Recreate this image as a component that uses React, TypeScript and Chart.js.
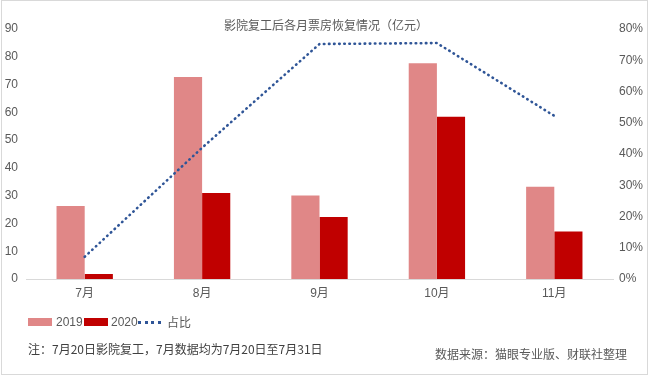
import React, { useEffect, useRef } from "react";
import { Chart, registerables } from "chart.js";

Chart.register(...registerables);

const categories = ["7月", "8月", "9月", "10月", "11月"];
const values2019 = [26.3, 72.7, 30.1, 77.7, 33.2];
const values2020 = [1.8, 31.0, 22.3, 58.4, 17.1];
const ratio = [0.071, 0.42, 0.752, 0.755, 0.522];

const titleText = "影院复工后各月票房恢复情况（亿元）";
const noteText = "注：7月20日影院复工，7月数据均为7月20日至7月31日";
const sourceText = "数据来源：猫眼专业版、财联社整理";

const LATIN = "'Liberation Sans', Arial, Helvetica, 'Noto Sans CJK SC', sans-serif";
const CJK = "'Noto Sans CJK SC', 'Liberation Sans', sans-serif";
const GREY = "#595959";
const C2019 = "#E08787";
const C2020 = "#C00000";
const CLINE = "#2F5597";

export default function App() {
  const ref = useRef<HTMLCanvasElement | null>(null);

  useEffect(() => {
    if (!ref.current) return;
    const chart = new Chart(ref.current, {
      type: "bar",
      data: {
        labels: categories,
        datasets: [
          {
            type: "line",
            label: "占比",
            data: ratio,
            yAxisID: "y1",
            borderColor: CLINE,
            backgroundColor: CLINE,
            borderWidth: 2.6,
            borderDash: [0.5, 4.6],
            borderCapStyle: "round",
            pointRadius: 0,
            tension: 0,
            order: 0,
          } as any,
          {
            label: "2019",
            data: values2019,
            backgroundColor: C2019,
            yAxisID: "y",
            order: 1,
            categoryPercentage: 0.48,
            barPercentage: 1,
          },
          {
            label: "2020",
            data: values2020,
            backgroundColor: C2020,
            yAxisID: "y",
            order: 2,
            categoryPercentage: 0.48,
            barPercentage: 1,
          },
        ],
      },
      options: {
        animation: false,
        responsive: false,
        maintainAspectRatio: false,
        layout: { padding: { top: 29, bottom: 67, left: 0, right: 0 } },
        plugins: { legend: { display: false }, title: { display: false }, tooltip: { enabled: false } },
        scales: {
          x: {
            grid: { display: false, drawTicks: false },
            border: { display: true, color: "#D9D9D9", width: 1 },
            ticks: { color: GREY, font: { family: LATIN, size: 12 }, padding: 7 },
            afterFit: (s: any) => { s.height = 30; },
          },
          y: {
            position: "left",
            min: 0,
            max: 90,
            grid: { display: false, drawTicks: false },
            border: { display: false },
            ticks: { stepSize: 10, color: GREY, font: { family: LATIN, size: 12 }, padding: 8 },
            afterFit: (s: any) => { s.width = 26; },
          },
          y1: {
            position: "right",
            min: 0,
            max: 0.8,
            grid: { display: false, drawTicks: false },
            border: { display: false },
            ticks: {
              stepSize: 0.1,
              color: GREY,
              font: { family: LATIN, size: 12 },
              padding: 6,
              callback: (v: any) => `${Math.round(Number(v) * 100)}%`,
            },
            afterFit: (s: any) => { s.width = 39; },
          },
        },
      },
    });
    return () => chart.destroy();
  }, []);

  const legendText: React.CSSProperties = {
    position: "absolute",
    top: 314,
    fontFamily: LATIN,
    fontSize: 12,
    color: GREY,
    lineHeight: "16px",
    whiteSpace: "nowrap",
  };
  const box: React.CSSProperties = { position: "absolute", top: 318, width: 24, height: 8 };

  return (
    <div style={{ position: "absolute", left: 0, top: 0, width: 652, height: 376, background: "#fff", overflow: "hidden" }}>
      <div style={{ position: "absolute", left: 1, top: 0, width: 645, height: 373, border: "1px solid #D9D9D9" }} />
      <canvas ref={ref} width={652} height={376} style={{ position: "absolute", left: 0, top: 0, width: 652, height: 376 }} />
      <div
        style={{
          position: "absolute",
          left: 0,
          width: 652,
          top: 16,
          textAlign: "center",
          fontFamily: CJK,
          fontSize: 12,
          lineHeight: "18px",
          color: GREY,
          whiteSpace: "nowrap",
        }}
      >
        {titleText}
      </div>
      <div style={{ ...box, left: 28, background: C2019 }} />
      <div style={{ ...legendText, left: 56 }}>2019</div>
      <div style={{ ...box, left: 84, background: C2020 }} />
      <div style={{ ...legendText, left: 111 }}>2020</div>
      <div
        style={{
          position: "absolute",
          left: 138,
          top: 321,
          width: 23,
          height: 0,
          borderTop: `3px dotted ${CLINE}`,
        }}
      />
      <div style={{ ...legendText, left: 167, fontFamily: CJK }}>占比</div>
      <div
        style={{
          position: "absolute",
          left: 28,
          top: 340,
          fontFamily: CJK,
          fontSize: 12,
          lineHeight: "18px",
          color: "#404040",
          whiteSpace: "nowrap",
        }}
      >
        {noteText}
      </div>
      <div
        style={{
          position: "absolute",
          right: 652 - 627,
          top: 345,
          fontFamily: CJK,
          fontSize: 12,
          lineHeight: "18px",
          color: GREY,
          whiteSpace: "nowrap",
        }}
      >
        {sourceText}
      </div>
    </div>
  );
}
